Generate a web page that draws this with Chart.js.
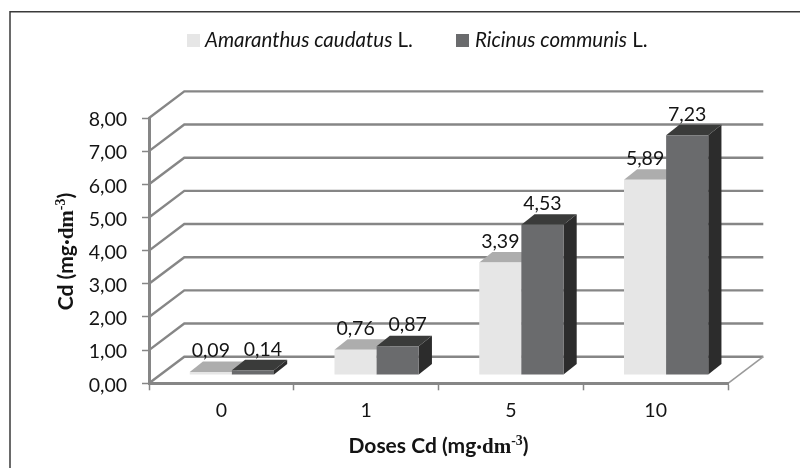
<!DOCTYPE html>
<html><head><meta charset="utf-8">
<style>html,body{margin:0;padding:0;background:#fff}canvas{display:block}</style>
<script src="https://cdn.jsdelivr.net/npm/chart.js@4"></script>
</head><body><canvas id="c" width="800" height="468"></canvas>
<script>
const categories = ["0","1","5","10"];
const amaranthus = [0.09,0.76,3.39,5.89];
const ricinus = [0.14,0.87,4.53,7.23];
const seriesNames = ["Amaranthus caudatus","Ricinus communis"];
const speciesSuffix = " L.";
const yTitleParts = ["Cd (mg·","dm","-3",")"];
const xTitleParts = ["Doses Cd (mg·","dm","-3",")"];

const FONT = 'Lato';
const TXT = '#141414', GRID = '#868686';
const C = {
  light:{front:'#e6e6e6',top:'#adadad',side:'#c8c8c8'},
  dark:{front:'#6a6b6d',top:'#3a3b3a',side:'#2c2c2c'}
};
const WALL = {dx:35.3,dy:-26.6};
const BAR_SHIFT = {x:10.5,y:-8.3};
const DEPTH = {x:13.2,y:-10.5};
const fmt = v => Number(v).toFixed(2).replace('.',',');

function titleFonts(px){return [`bold ${px}px ${FONT}`,`bold ${px}px "Liberation Serif"`,`bold ${px*0.66}px "Liberation Serif"`,`bold ${px}px ${FONT}`];}
function segments(ctx,parts,x,y,px){
  const fonts=titleFonts(px), rise=[0,0,-px*0.38,0];
  ctx.textAlign='left';ctx.textBaseline='alphabetic';ctx.fillStyle=TXT;
  parts.forEach((p,i)=>{ctx.font=fonts[i];ctx.fillText(p,x,y+rise[i]);x+=ctx.measureText(p).width;});
}
function segWidth(ctx,parts,px){
  const fonts=titleFonts(px);
  let w=0;parts.forEach((p,i)=>{ctx.font=fonts[i];w+=ctx.measureText(p).width;});return w;
}

const scene = {
  id:'scene',
  beforeDraw(chart){
    const {ctx,scales:{y},chartArea:a}=chart;
    ctx.save();
    ctx.fillStyle='#fff';ctx.fillRect(0,0,800,468);
    ctx.strokeStyle='#3a3a3a';ctx.lineWidth=1.5;
    ctx.beginPath();ctx.moveTo(10,468);ctx.lineTo(10,11.7);ctx.lineTo(800,11.7);ctx.stroke();
    ctx.strokeStyle=GRID;ctx.lineWidth=2.4;
    y.ticks.forEach(t=>{
      const py=y.getPixelForValue(t.value);
      ctx.beginPath();ctx.moveTo(a.left,py);ctx.lineTo(a.left+WALL.dx,py+WALL.dy);ctx.lineTo(a.right+WALL.dx,py+WALL.dy);ctx.stroke();
    });
    const p0=y.getPixelForValue(0);
    ctx.strokeStyle='#9a9a9a';ctx.lineWidth=1.6;
    ctx.beginPath();ctx.moveTo(a.right,p0);ctx.lineTo(a.right+WALL.dx,p0+WALL.dy);ctx.stroke();
    ctx.restore();
  },
  beforeDatasetsDraw(chart){
    const {ctx}=chart;
    ctx.save();
    ctx.translate(BAR_SHIFT.x,BAR_SHIFT.y);
    [C.light,C.dark].forEach((pal,i)=>{
      chart.getDatasetMeta(i).data.forEach(el=>{
        const l=el.x-el.width/2,r=el.x+el.width/2,t=el.y,b=el.base;
        ctx.fillStyle=pal.side;
        ctx.beginPath();ctx.moveTo(r,t);ctx.lineTo(r+DEPTH.x,t+DEPTH.y);ctx.lineTo(r+DEPTH.x,b+DEPTH.y);ctx.lineTo(r,b);ctx.closePath();ctx.fill();
        ctx.fillStyle=pal.top;
        ctx.beginPath();ctx.moveTo(l,t);ctx.lineTo(l+DEPTH.x,t+DEPTH.y);ctx.lineTo(r+DEPTH.x,t+DEPTH.y);ctx.lineTo(r,t);ctx.closePath();ctx.fill();
        el.draw(ctx);
      });
    });
    ctx.restore();
  },
  beforeDatasetDraw(){return false;},
  afterDatasetsDraw(chart){
    const {ctx}=chart;
    ctx.save();
    ctx.font=`19.5px ${FONT}`;ctx.fillStyle=TXT;ctx.textAlign='center';ctx.textBaseline='middle';
    chart.data.datasets.forEach((ds,i)=>{
      chart.getDatasetMeta(i).data.forEach((el,j)=>{
        const v=ds.data[j];
        const nudge=(i===1&&v<1)?10:0;
        ctx.fillText(fmt(v),el.x+BAR_SHIFT.x+nudge,el.y+BAR_SHIFT.y+DEPTH.y-10.5);
      });
    });
    const lx=[187,456], tx=[205,475];
    [C.light,C.dark].forEach((pal,i)=>{
      ctx.fillStyle=pal.front;ctx.fillRect(lx[i],34,13,13);
      ctx.fillStyle=TXT;ctx.textAlign='left';ctx.textBaseline='alphabetic';
      ctx.font=`italic 20.5px ${FONT}`;ctx.fillText(seriesNames[i],tx[i],47);
      const w=ctx.measureText(seriesNames[i]).width;
      ctx.font=`20.5px ${FONT}`;ctx.fillText(speciesSuffix,tx[i]+w,47);
    });
    const px=21;
    const wx=segWidth(ctx,xTitleParts,px);
    segments(ctx,xTitleParts,438.5-wx/2,453,px);
    const wy=segWidth(ctx,yTitleParts,px);
    ctx.translate(73,251.5);ctx.rotate(-Math.PI/2);
    segments(ctx,yTitleParts,-wy/2,0,px);
    ctx.restore();
  }
};

new Chart(document.getElementById('c'),{
  type:'bar',
  data:{labels:categories,datasets:[
    {label:seriesNames[0]+speciesSuffix,data:amaranthus,backgroundColor:C.light.front},
    {label:seriesNames[1]+speciesSuffix,data:ricinus,backgroundColor:C.dark.front}
  ]},
  options:{
    responsive:false,animation:false,
    layout:{padding:{left:0,top:118,right:72,bottom:0}},
    datasets:{bar:{barPercentage:1,categoryPercentage:0.582}},
    plugins:{legend:{display:false},title:{display:false},tooltip:{enabled:false}},
    scales:{
      x:{
        afterFit(s){s.height=84.7;},
        grid:{drawOnChartArea:false,tickLength:7,tickColor:GRID,tickWidth:1.5},
        border:{color:GRID,width:3},
        ticks:{color:TXT,font:{family:FONT,size:19.5},padding:9,maxRotation:0}
      },
      y:{
        min:0,max:8,
        afterFit(s){s.width=149;},
        grid:{drawOnChartArea:false,tickLength:7,tickColor:GRID,tickWidth:1.5},
        border:{color:GRID,width:3},
        ticks:{color:TXT,font:{family:FONT,size:19.5},padding:15,stepSize:1,labelOffset:2,callback:v=>fmt(v)}
      }
    }
  },
  plugins:[scene]
});
</script></body></html>
